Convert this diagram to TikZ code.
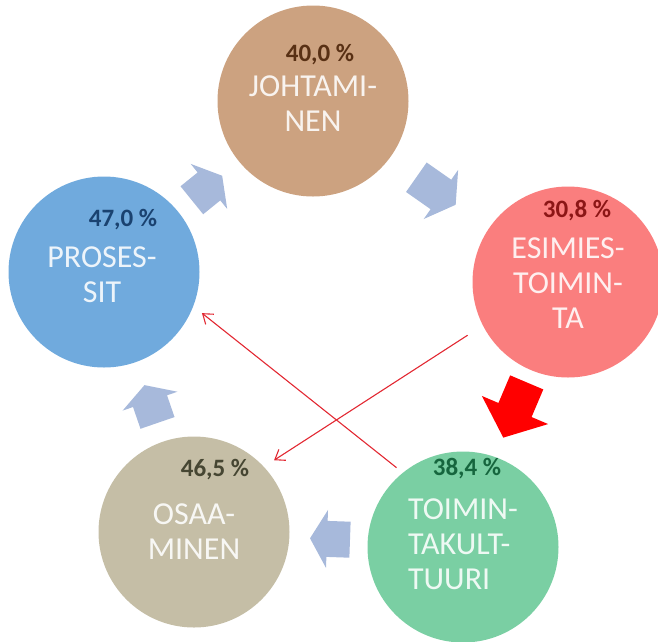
\documentclass[tikz,border=0pt]{standalone}
\usepackage{fontspec}
\setmainfont{Carlito}
\usetikzlibrary{arrows.meta}
\definecolor{cjoh}{RGB}{204,162,128}
\definecolor{cesi}{RGB}{250,126,126}
\definecolor{cpro}{RGB}{112,170,221}
\definecolor{ctoi}{RGB}{122,207,163}
\definecolor{cosa}{RGB}{197,190,166}
\definecolor{djoh}{RGB}{88,48,20}
\definecolor{desi}{RGB}{140,22,22}
\definecolor{dpro}{RGB}{26,66,112}
\definecolor{dtoi}{RGB}{22,102,62}
\definecolor{dosa}{RGB}{70,70,50}
\definecolor{cblk}{RGB}{167,185,219}
\definecolor{cred}{RGB}{226,40,50}
\tikzset{
  pics/flow/.style args={#1/#2/#3}{code={
    \fill[pic actions] ({-#1/2}, -18) -- ({#1/2-#2}, -18) -- ({#1/2-#2}, -#3)
      -- ({#1/2}, 0) -- ({#1/2-#2}, #3) -- ({#1/2-#2}, 18) -- ({-#1/2}, 18) -- cycle;
  }}
}

\begin{document}
\begin{tikzpicture}[x=1pt, y=-1pt,
    ball/.style={circle, minimum size=191pt, inner sep=0pt},
    pct/.style={font=\fontsize{25}{28}\selectfont\bfseries},
    lbl/.style={align=center, text=white, text opacity=0.88, font=\fontsize{32}{35}\selectfont},
    link/.style={draw=cred, line width=1.1pt, -{Straight Barb[length=9pt,width=13pt]}}]
      \useasboundingbox (0,0) rectangle (658,641);
      \node[ball, fill=cjoh] (joh) at (313, 101) {};
      \node[ball, fill=cesi] (esi) at (568, 282) {};
      \node[ball, fill=ctoi] (toi) at (463, 547) {};
      \node[ball, fill=cosa] (osa) at (194, 532) {};
      \node[ball, fill=cpro] (pro) at (104, 272) {};
      \node[pct, text=djoh] (pjoh) at (320, 55) {40,0 \%};
      \node[pct, text=desi] (pesi) at (577, 211) {30,8 \%};
      \node[pct, text=dtoi] (ptoi) at (467, 469) {38,4 \%};
      \node[pct, text=dosa] (posa) at (215, 470) {46,5 \%};
      \node[pct, text=dpro] (ppro) at (123, 220) {47,0 \%};
      \node[lbl] (ljoh) at (313, 104) {JOHTAMI-\\NEN};
      \node[lbl] (lesi) at (568, 283) {ESIMIES-\\TOIMIN-\\TA};
      \node[lbl, align=left] (ltoi) at (463, 544) {TOIMIN-\\TAKULT-\\TUURI};
      \node[lbl] (losa) at (194, 532) {OSAA-\\MINEN};
      \node[lbl] (lpro) at (102, 275) {PROSES-\\SIT};
      \pic[fill=cblk, rotate=39] (a1) at (207, 188) {flow=39/17/29};
      \pic[fill=cblk, rotate=-35] (a2) at (436, 191) {flow=48/18/30};
      \pic[fill=red, rotate=-113] (a3) at (515, 410) {flow=60/30/36};
      \pic[fill=cblk, rotate=178] (a4) at (330, 539) {flow=40/17/29};
      \pic[fill=cblk, rotate=109] (a5) at (151, 404) {flow=40/17/29};
      \draw[link, shorten <=18pt, shorten >=12pt] (esi.207) -- (osa.43);
      \draw[link, shorten <=8pt, shorten >=11pt] (toi.129) -- (pro.339);
    \end{tikzpicture}
\end{document}
